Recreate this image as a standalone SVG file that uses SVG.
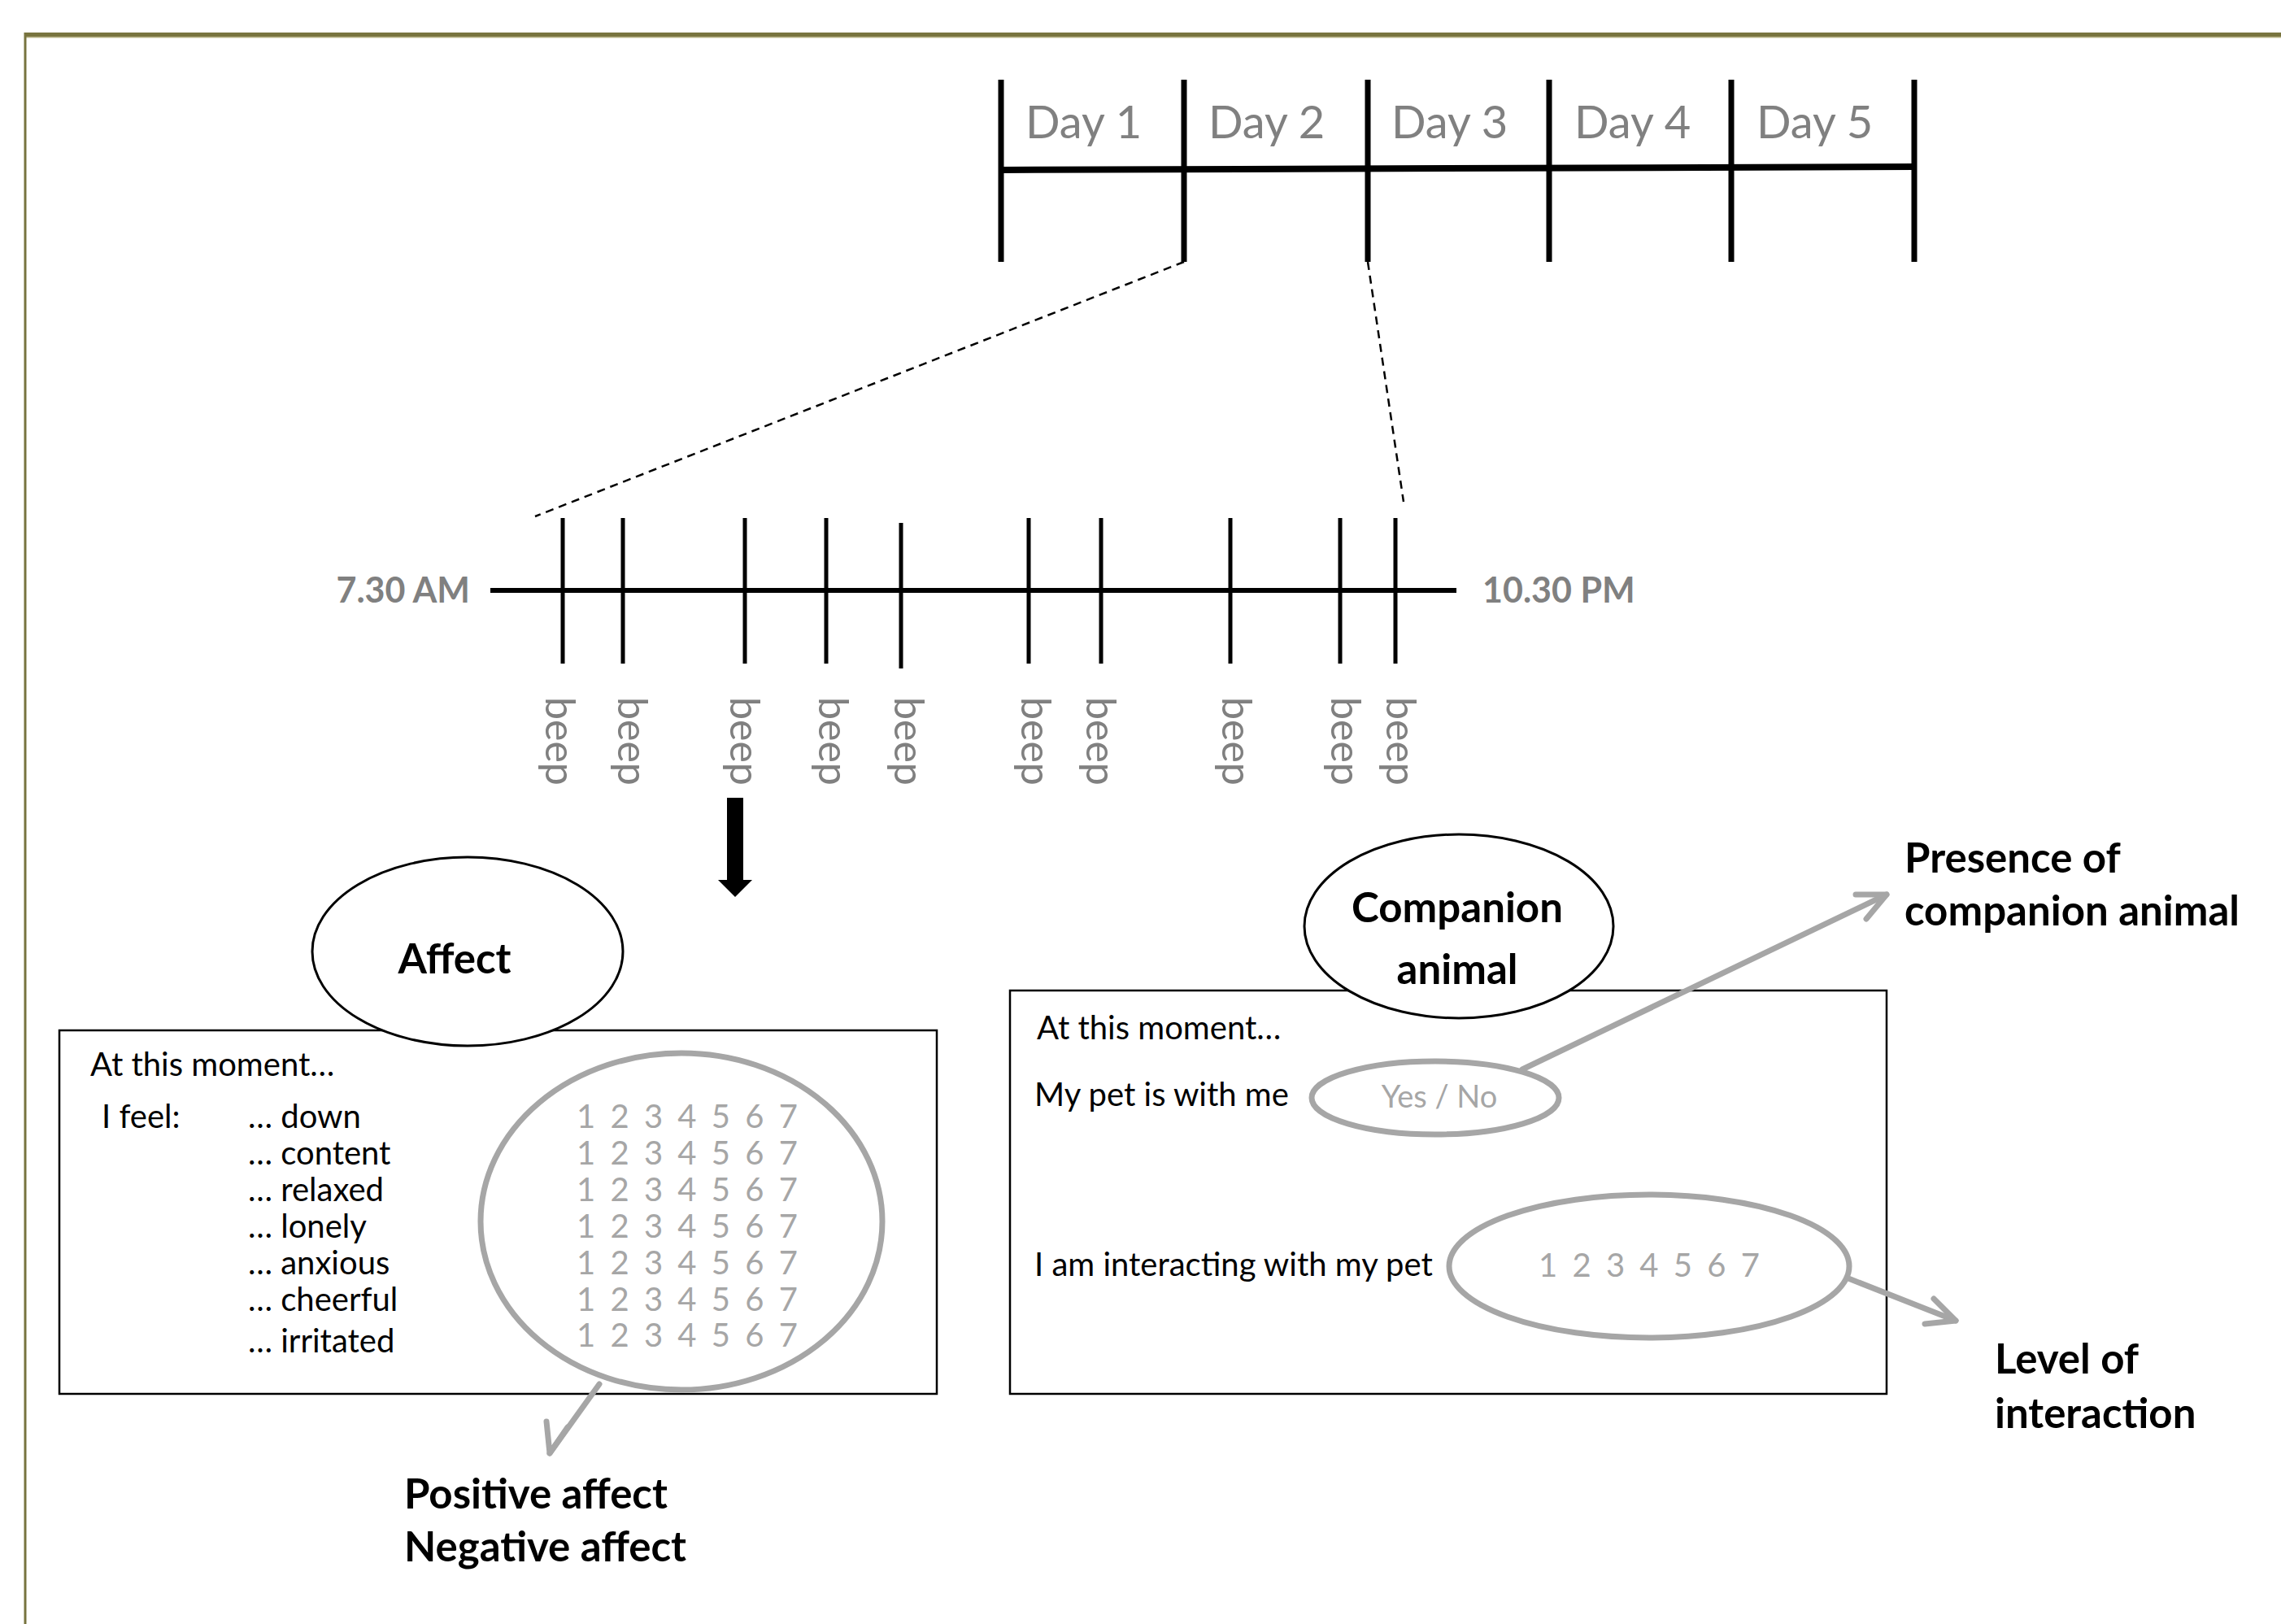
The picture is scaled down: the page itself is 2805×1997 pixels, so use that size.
<svg xmlns="http://www.w3.org/2000/svg" width="2805" height="1997" viewBox="0 0 2805 1997">
<style>
text{font-family:Lato,"Open Sans","Liberation Sans",sans-serif}
.day{font-size:56px;fill:#808080}
.time{font-size:43px;font-weight:bold;fill:#808080}
.beep{font-size:50px;fill:#808080}
.q{font-size:40px;fill:#000}
.num{font-size:40px;fill:#a6a6a6;word-spacing:8px}
.yn{font-size:38px;fill:#a6a6a6}
.lbl{font-size:51px;font-weight:bold;fill:#000}
.tick{stroke:#000;stroke-width:7;fill:none}
.btick{stroke:#000;stroke-width:5;fill:none}
.box{fill:#fff;stroke:#000;stroke-width:2.5}
.oval{fill:#fff;stroke:#000;stroke-width:3}
.goval{fill:none;stroke:#a6a6a6;stroke-width:7}
.dash{stroke:#000;stroke-width:2.5;stroke-dasharray:10 7;fill:none}
.garrow{stroke:#a6a6a6;stroke-width:7;fill:none;stroke-linecap:round;stroke-linejoin:round}
</style>
<rect width="2805" height="1997" fill="#fff"/>
<g id="frame">
<line x1="30" y1="43" x2="2805" y2="43" stroke="#78743f" stroke-width="6"/>
<line x1="30" y1="46" x2="2805" y2="46" stroke="#c8c59e" stroke-width="1.5"/>
<line x1="31" y1="40" x2="31" y2="1997" stroke="#78743f" stroke-width="3"/>
</g>
<g id="days-timeline">
<line x1="1231" y1="209" x2="2354" y2="205" stroke="#000" stroke-width="8"/>
<line class="tick" x1="1231" y1="98" x2="1231" y2="322"/>
<line class="tick" x1="1456" y1="98" x2="1456" y2="322"/>
<line class="tick" x1="1682" y1="98" x2="1682" y2="322"/>
<line class="tick" x1="1905" y1="98" x2="1905" y2="322"/>
<line class="tick" x1="2129" y1="98" x2="2129" y2="322"/>
<line class="tick" x1="2354" y1="98" x2="2354" y2="322"/>
<text class="day" x="1261" y="170">Day 1</text>
<text class="day" x="1486" y="170">Day 2</text>
<text class="day" x="1711" y="170">Day 3</text>
<text class="day" x="1936" y="170">Day 4</text>
<text class="day" x="2160" y="170">Day 5</text>
</g>
<g id="day-timeline">
<line x1="603" y1="726" x2="1791" y2="726" stroke="#000" stroke-width="6"/>
<line class="btick" x1="692" y1="637" x2="692" y2="816"/>
<line class="btick" x1="766" y1="637" x2="766" y2="816"/>
<line class="btick" x1="916" y1="637" x2="916" y2="816"/>
<line class="btick" x1="1016" y1="637" x2="1016" y2="816"/>
<line class="btick" x1="1108" y1="643" x2="1108" y2="822"/>
<line class="btick" x1="1265" y1="637" x2="1265" y2="816"/>
<line class="btick" x1="1354" y1="637" x2="1354" y2="816"/>
<line class="btick" x1="1513" y1="637" x2="1513" y2="816"/>
<line class="btick" x1="1648" y1="637" x2="1648" y2="816"/>
<line class="btick" x1="1716" y1="637" x2="1716" y2="816"/>
<text class="time" x="578" y="741" text-anchor="end">7.30 AM</text>
<text class="time" x="1823" y="741">10.30 PM</text>
<text class="beep" transform="translate(671,857) rotate(90)">beep</text>
<text class="beep" transform="translate(760,857) rotate(90)">beep</text>
<text class="beep" transform="translate(898,857) rotate(90)">beep</text>
<text class="beep" transform="translate(1007,857) rotate(90)">beep</text>
<text class="beep" transform="translate(1100,857) rotate(90)">beep</text>
<text class="beep" transform="translate(1256,857) rotate(90)">beep</text>
<text class="beep" transform="translate(1336,857) rotate(90)">beep</text>
<text class="beep" transform="translate(1503,857) rotate(90)">beep</text>
<text class="beep" transform="translate(1637,857) rotate(90)">beep</text>
<text class="beep" transform="translate(1705,857) rotate(90)">beep</text>
</g>
<g id="affect-box">
<rect class="box" x="73" y="1267" width="1079" height="447"/>
<text class="q" x="111" y="1323">At this moment…</text>
<text class="q" x="125" y="1387">I feel:</text>
<text class="q" x="305" y="1387">… down</text>
<text class="q" x="305" y="1432">… content</text>
<text class="q" x="305" y="1477">… relaxed</text>
<text class="q" x="305" y="1522">… lonely</text>
<text class="q" x="305" y="1567">… anxious</text>
<text class="q" x="305" y="1612">… cheerful</text>
<text class="q" x="305" y="1663">… irritated</text>
<ellipse class="goval" cx="838" cy="1502" rx="247" ry="207"/>
<text class="num" x="709" y="1387">1 2 3 4 5 6 7</text>
<text class="num" x="709" y="1432">1 2 3 4 5 6 7</text>
<text class="num" x="709" y="1477">1 2 3 4 5 6 7</text>
<text class="num" x="709" y="1522">1 2 3 4 5 6 7</text>
<text class="num" x="709" y="1567">1 2 3 4 5 6 7</text>
<text class="num" x="709" y="1612">1 2 3 4 5 6 7</text>
<text class="num" x="709" y="1656">1 2 3 4 5 6 7</text>
</g>
<g id="affect-node">
<ellipse class="oval" cx="575" cy="1170" rx="191" ry="116"/>
<text class="lbl" x="559" y="1197" text-anchor="middle" font-size="68">Affect</text>
</g>
<g id="companion-box">
<rect class="box" x="1242" y="1218" width="1078" height="496"/>
<text class="q" x="1275" y="1278">At this moment…</text>
<text class="q" x="1272" y="1360">My pet is with me</text>
<text class="q" x="1272" y="1569">I am interacting with my pet</text>
<ellipse class="goval" cx="1765" cy="1350" rx="152" ry="45"/>
<text class="yn" x="1770" y="1362" text-anchor="middle">Yes / No</text>
<ellipse class="goval" cx="2028" cy="1557" rx="246" ry="88"/>
<text class="num" x="1892" y="1570">1 2 3 4 5 6 7</text>
</g>
<g id="companion-node">
<ellipse class="oval" cx="1794" cy="1139" rx="190" ry="113"/>
<text class="lbl" x="1792" y="1134" text-anchor="middle" font-size="66">Companion</text>
<text class="lbl" x="1792" y="1210" text-anchor="middle" font-size="66">animal</text>
</g>
<g id="outcome-labels">
<text class="lbl" x="2342" y="1073">Presence of</text>
<text class="lbl" x="2342" y="1138">companion animal</text>
<text class="lbl" x="2453" y="1689">Level of</text>
<text class="lbl" x="2453" y="1756">interaction</text>
<text class="lbl" x="497" y="1855">Positive affect</text>
<text class="lbl" x="497" y="1920">Negative affect</text>
</g>
<g id="connectors">
<line class="dash" x1="1456" y1="322" x2="658" y2="635"/>
<line class="dash" x1="1682" y1="322" x2="1726" y2="617"/>
<polygon points="894,981 914,981 914,1082 925,1082 904,1103 883,1082 894,1082" fill="#000"/>
<polyline class="garrow" points="737,1702 676,1787"/>
<polyline class="garrow" points="672,1748 676,1787 698,1755"/>
<polyline class="garrow" points="1872,1315 2320,1100"/>
<polyline class="garrow" points="2282,1100 2320,1100 2295,1130"/>
<polyline class="garrow" points="2273,1572 2405,1624"/>
<polyline class="garrow" points="2378,1597 2405,1624 2367,1628"/>
</g>
</svg>
